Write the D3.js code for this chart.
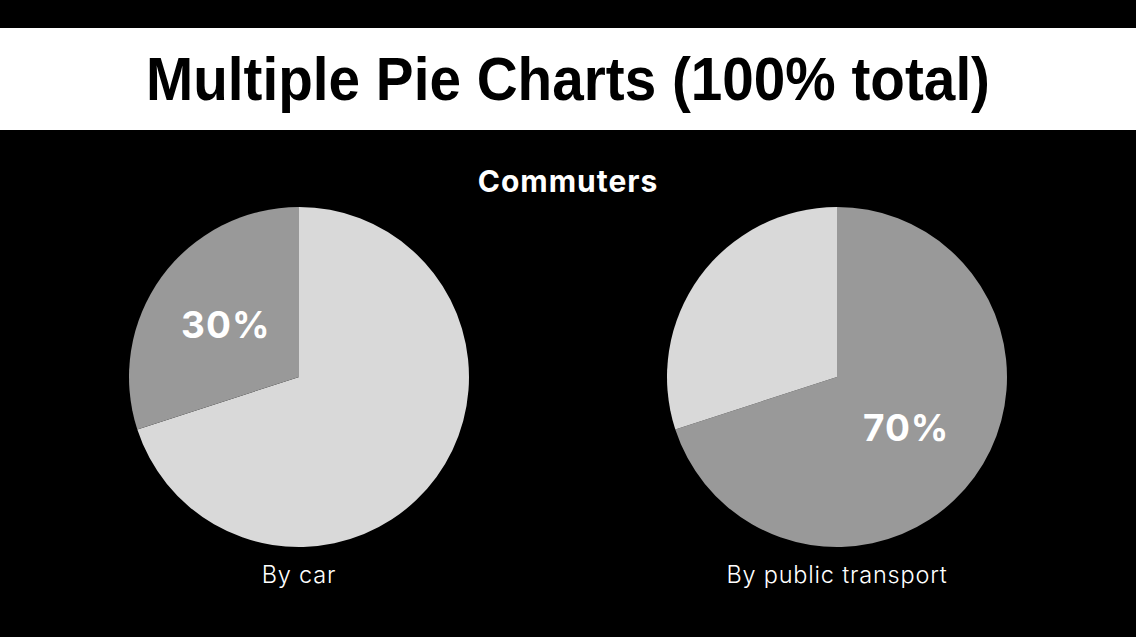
<!DOCTYPE html>
<html>
<head>
<meta charset="utf-8">
<script src="https://cdn.jsdelivr.net/npm/d3@7"></script>
<style>
  html, body { margin: 0; padding: 0; background: #000; }
  svg { display: block; }
</style>
</head>
<body>
<svg id="chart"></svg>
<script>
// data
const title = "Multiple Pie Charts (100% total)";
const subtitle = "Commuters";
const pieNames = ["By car", "By public transport"];
const highlightShare = [30, 70];   // percent shown in dark slice

const width = 1136, height = 637;
const svg = d3.select("#chart").attr("width", width).attr("height", height);

svg.append("rect").attr("width", width).attr("height", height).attr("fill", "#000");

// title banner
svg.append("rect")
    .attr("x", 0).attr("y", 28)
    .attr("width", width).attr("height", 102)
    .attr("fill", "#fff");

svg.append("text")
    .attr("x", width / 2).attr("y", 100)
    .attr("text-anchor", "middle")
    .attr("font-family", "'Liberation Sans Narrow', 'Liberation Sans', Arial, sans-serif")
    .attr("font-weight", "bold")
    .attr("font-size", 61)
    .attr("textLength", 844)
    .attr("lengthAdjust", "spacingAndGlyphs")
    .attr("fill", "#000")
    .text(title);

svg.append("text")
    .attr("x", width / 2).attr("y", 192)
    .attr("text-anchor", "middle")
    .attr("font-family", "Inter, sans-serif")
    .attr("font-weight", 700)
    .attr("font-size", 30)
    .attr("letter-spacing", 1)
    .attr("fill", "#fff")
    .text(subtitle);

const radius = 170;
const x = d3.scalePoint().domain(pieNames).range([299, 837]);
const cy = 377;

const arc = d3.arc().innerRadius(0).outerRadius(radius);
const labelArc = d3.arc().innerRadius(88).outerRadius(88);

pieNames.forEach((name, i) => {
    const share = highlightShare[i];
    // left pie: dark slice sits on the left; right pie: dark slice on the right
    const slices = i === 0
        ? [{ v: 100 - share, dark: false }, { v: share, dark: true }]
        : [{ v: share, dark: true }, { v: 100 - share, dark: false }];

    const pie = d3.pie().sort(null).value(d => d.v);
    const g = svg.append("g").attr("transform", `translate(${x(name)},${cy})`);

    const arcs = pie(slices);
    g.selectAll("path")
        .data(arcs)
        .enter()
        .append("path")
        .attr("d", arc)
        .attr("fill", d => d.data.dark ? "#999999" : "#d9d9d9");

    const dark = arcs.find(d => d.data.dark);
    const c = labelArc.centroid(dark);
    g.append("text")
        .attr("x", c[0] - 2).attr("y", c[1] - 1)
        .attr("dy", "0.36em")
        .attr("text-anchor", "middle")
        .attr("font-family", "Inter, sans-serif")
        .attr("font-weight", 700)
        .attr("font-size", 37)
        .attr("letter-spacing", 1)
        .attr("fill", "#fff")
        .text(share + "%");

    svg.append("text")
        .attr("x", x(name)).attr("y", 583)
        .attr("text-anchor", "middle")
        .attr("font-family", "Inter, sans-serif")
        .attr("font-weight", 300)
        .attr("font-size", 23.5)
        .attr("letter-spacing", 0.8)
        .attr("fill", "#fff")
        .text(name);
});
</script>
</body>
</html>
